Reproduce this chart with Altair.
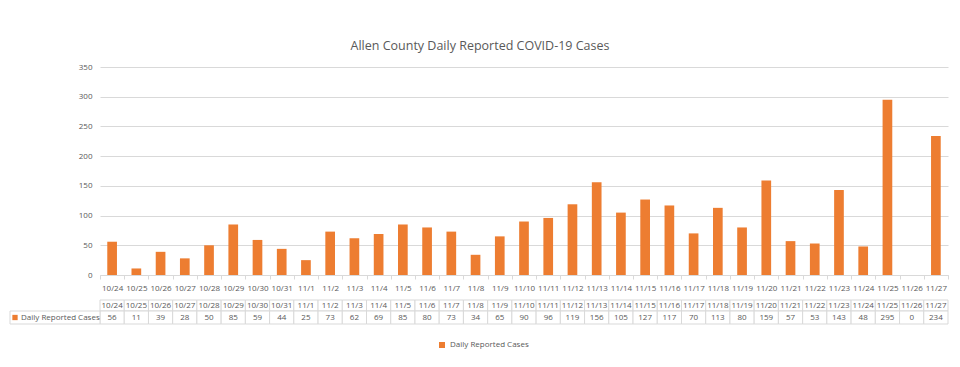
import altair as alt
import pandas as pd

dates = ["10/24", "10/25", "10/26", "10/27", "10/28", "10/29", "10/30", "10/31",
         "11/1", "11/2", "11/3", "11/4", "11/5", "11/6", "11/7", "11/8", "11/9",
         "11/10", "11/11", "11/12", "11/13", "11/14", "11/15", "11/16", "11/17",
         "11/18", "11/19", "11/20", "11/21", "11/22", "11/23", "11/24", "11/25",
         "11/26", "11/27"]
cases = [56, 11, 39, 28, 50, 85, 59, 44, 25, 73, 62, 69, 85, 80, 73, 34, 65,
         90, 96, 119, 156, 105, 127, 117, 70, 113, 80, 159, 57, 53, 143, 48, 295,
         0, 234]
series_name = "Daily Reported Cases"
title_text = "Allen County Daily Reported COVID-19 Cases"

df = pd.DataFrame({"date": dates, "cases": cases, "series": series_name})
label_df = pd.DataFrame({"series": [series_name]})

FONT = "Open Sans"
GRAY = "#595959"
GRID = "#d9d9d9"
ORANGE = "#ED7D31"
W, H = 848, 208

# table rows (pixels relative to plot top)
HDR_TOP, MID, BOT = 233, 244, 257

x = alt.X("date:N", sort=dates, title=None,
          scale=alt.Scale(paddingInner=0, paddingOuter=0),
          axis=alt.Axis(labelAngle=0, labelFont=FONT, labelFontSize=8,
                        labelColor=GRAY, labelPadding=5, tickBand="extent",
                        tickColor=GRID, tickSize=4, domainColor=GRID,
                        grid=False))

bars = alt.Chart(df).mark_bar(width=alt.RelativeBandSize(0.4)).encode(
    x=x,
    y=alt.Y("cases:Q", title=None,
            scale=alt.Scale(domain=[0, 350]),
            axis=alt.Axis(values=list(range(0, 351, 50)), domain=False,
                          ticks=False, gridColor=GRID, labelFont=FONT,
                          labelFontSize=8, labelColor=GRAY, labelPadding=8)),
    color=alt.Color("series:N",
                    scale=alt.Scale(domain=[series_name], range=[ORANGE]),
                    legend=alt.Legend(title=None, orient="none", legendX=338,
                                      legendY=274, direction="horizontal",
                                      symbolType="square", symbolSize=36,
                                      labelFont=FONT, labelFontSize=8,
                                      labelColor=GRAY)),
)

hdr_cells = alt.Chart(df).mark_rect(fill="white", stroke=GRID, strokeWidth=1).encode(
    x=x, y=alt.value(HDR_TOP), y2=alt.value(MID))
val_cells = alt.Chart(df).mark_rect(fill="white", stroke=GRID, strokeWidth=1).encode(
    x=x, y=alt.value(MID), y2=alt.value(BOT))
hdr_text = alt.Chart(df).mark_text(font=FONT, fontSize=8, color=GRAY,
                                   baseline="middle").encode(
    x=x, y=alt.value((HDR_TOP + MID) / 2), text="date:N")
val_text = alt.Chart(df).mark_text(font=FONT, fontSize=8, color=GRAY,
                                   baseline="middle").encode(
    x=x, y=alt.value((MID + BOT) / 2), text="cases:Q")

lab_cell = alt.Chart(label_df).mark_rect(fill="white", stroke=GRID, strokeWidth=1).encode(
    x=alt.value(-90), x2=alt.value(0), y=alt.value(MID), y2=alt.value(BOT))
lab_sq = alt.Chart(label_df).mark_square(size=28, color=ORANGE, opacity=1).encode(
    x=alt.value(-85), y=alt.value((MID + BOT) / 2))
lab_text = alt.Chart(label_df).mark_text(font=FONT, fontSize=8, color=GRAY,
                                         align="left", baseline="middle").encode(
    x=alt.value(-79), y=alt.value((MID + BOT) / 2), text="series:N")

chart = alt.layer(bars, hdr_cells, val_cells, hdr_text, val_text,
                  lab_cell, lab_sq, lab_text).properties(
    width=W, height=H,
    title=alt.TitleParams(title_text, font=FONT, fontSize=12.5, fontWeight="normal",
                          color=GRAY, anchor="middle", offset=11, dx=-44),
    autosize=alt.AutoSizeParams(type="none"),
    padding={"left": 92, "top": 59, "right": 4, "bottom": 80},
).configure_view(stroke=None)

chart.save("out.html", embed_options={"renderer": "svg", "actions": False})
